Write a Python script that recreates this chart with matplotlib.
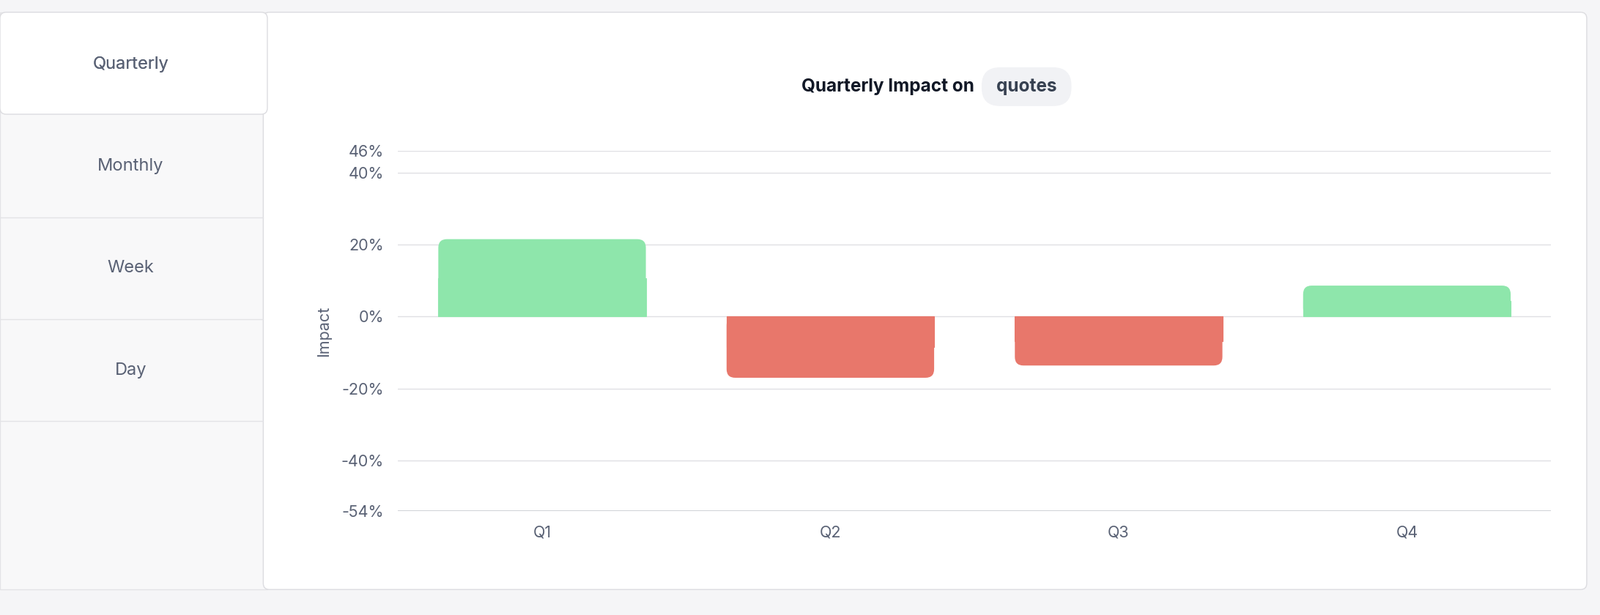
import matplotlib.pyplot as plt
from matplotlib.patches import FancyBboxPatch, Rectangle

# data
quarters = ["Q1", "Q2", "Q3", "Q4"]
impact = [21.5, -17.0, -13.6, 8.6]
tabs = ["Quarterly", "Monthly", "Week", "Day"]
ytick_vals = [46, 40, 20, 0, -20, -40, -54]

W, H = 1568, 603  # layout units (reference preview pixels)
fig = plt.figure(figsize=(21.84, 8.4), dpi=100)
fig.patch.set_facecolor("#f5f5f7")

bg = fig.add_axes([0, 0, 1, 1])
bg.set_xlim(0, W)
bg.set_ylim(H, 0)
bg.axis("off")

# left tab panel
bg.add_patch(Rectangle((0, 12), 262, 566, facecolor="#f8f8f9", edgecolor="#e3e3e6", lw=1))
for i, t in enumerate(tabs):
    yc = 63 + i * 100
    if i > 0:
        bg.plot([0, 258], [yc + 50, yc + 50], color="#e3e3e6", lw=1)
    bg.text(128, yc, t, ha="center", va="center", fontsize=17, color="#5a6275", family="Inter")
# main card
bg.add_patch(FancyBboxPatch((258, 12), 1297, 566, boxstyle="round,pad=0,rounding_size=6",
                            facecolor="white", edgecolor="#dcdce0", lw=1))
# active tab
bg.add_patch(FancyBboxPatch((0, 12), 262, 100, boxstyle="round,pad=0,rounding_size=6",
                            facecolor="white", edgecolor="#dcdce0", lw=1))
bg.text(128, 63, tabs[0], ha="center", va="center", fontsize=17, color="#5a6275", family="Inter")

# title
bg.text(955, 85, "Quarterly Impact on", ha="right", va="center", fontsize=17.5,
        fontweight="bold", color="#111827", family="Inter")
bg.add_patch(FancyBboxPatch((962, 66), 88, 38, boxstyle="round,pad=0,rounding_size=18",
                            facecolor="#f1f2f5", edgecolor="none"))
bg.text(1006, 85, "quotes", ha="center", va="center", fontsize=17.5,
        fontweight="bold", color="#374151", family="Inter")

ax = fig.add_axes([390 / W, 1 - 501 / H, 1130 / W, 353 / H])
ax.set_facecolor("none")
ax.set_xlim(-0.5, 3.5)
ax.set_ylim(-54, 46)
for v in ytick_vals:
    ax.axhline(v, color="#e0e0e4", lw=1, zorder=0)
ax.set_yticks(ytick_vals)
ax.set_yticklabels([f"{v}%" for v in ytick_vals], fontsize=15.5, color="#5a6275", family="Inter")
ax.set_xticks(range(len(quarters)))
ax.set_xticklabels(quarters, fontsize=15.5, color="#5a6275", family="Inter")
ax.tick_params(length=0, pad=14)
for s in ax.spines.values():
    s.set_visible(False)
ax.axhline(-54, color="#c9cbd1", lw=1.2)
ax.set_ylabel("Impact", fontsize=15.5, color="#5a6275", family="Inter", labelpad=10)

bw = 0.72
aspect = 80.0
for i, v in enumerate(impact):
    c = "#8ee6ab" if v > 0 else "#e8776b"
    lo = min(0, v)
    ax.add_patch(FancyBboxPatch((i - bw / 2, lo), bw, abs(v),
                                boxstyle="round,pad=0,rounding_size=0.03",
                                mutation_aspect=aspect, facecolor=c, edgecolor="none", zorder=2))
    ax.add_patch(Rectangle((i - bw / 2, min(0, v / 2)), bw, abs(v) / 2,
                           facecolor=c, edgecolor=c, lw=0.8, zorder=3))

fig.savefig("out.png", dpi=100, facecolor=fig.get_facecolor())
